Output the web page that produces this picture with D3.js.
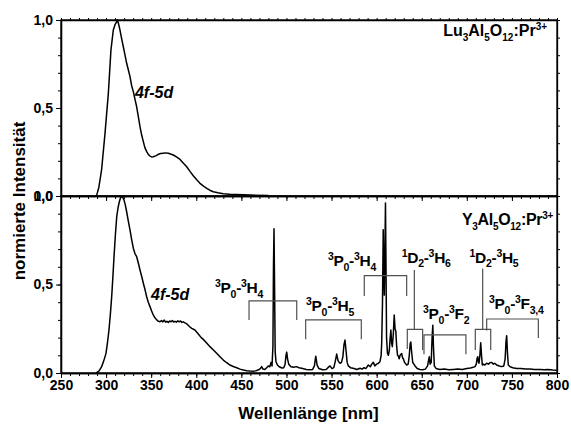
<!DOCTYPE html>
<html><head><meta charset="utf-8">
<script src="https://cdn.jsdelivr.net/npm/d3@7"></script>
<style>
body{margin:0;background:#fff}
svg{display:block;background:#fff}
text{font-family:Arial,"Liberation Sans",sans-serif;font-weight:bold;fill:#000}
.tick text{font-size:14px}
</style></head><body>
<svg id="chart" width="571" height="433"></svg>
<script>
// Excitation spectrum of Lu3Al5O12:Pr3+ : [wavelength nm, normalised intensity]
const luSpectrum = [
  [289,0],[289.6,0.005],[292,0.05],[295,0.148],[298.8,0.356],[302.5,0.583],[305.4,0.83],[308,0.943],
  [310,0.975],[311.8,0.99],[312.5,1.0],[313.5,0.985],[315.4,0.943],[317,0.9],[319.1,0.848],[321,0.8],
  [322.8,0.754],[324.5,0.72],[326.5,0.678],[328.4,0.625],[330.2,0.593],[332,0.55],[333.9,0.507],
  [335.8,0.45],[337.6,0.394],[339.5,0.345],[341.3,0.309],[343,0.275],[345,0.252],[347,0.235],
  [348.7,0.227],[350.5,0.222],[352.3,0.223],[355,0.228],[357.9,0.237],[360.5,0.241],[363.4,0.243],
  [366,0.245],[369,0.243],[371.5,0.239],[374.5,0.233],[378,0.222],[382,0.208],[385.5,0.188],
  [389.4,0.166],[393,0.14],[396.7,0.115],[400.5,0.092],[404.1,0.072],[408,0.056],[411.6,0.044],
  [415,0.033],[418.9,0.024],[424,0.018],[430,0.013],[437,0.01],[444.8,0.008],[460,0.005],[480,0.003]
];

// Spectrum of Y3Al5O12:Pr3+ : [wavelength nm, normalised intensity]
const yagSpectrum = [
  [289,0],[292,0.01],[295.1,0.036],[297.5,0.07],[299.9,0.111],[301.5,0.17],[303.2,0.243],[304.7,0.33],
  [306.2,0.431],[307.5,0.54],[308.8,0.657],[310.3,0.78],[311.8,0.883],[313.3,0.935],[314.7,0.968],
  [316,0.99],[317.3,0.997],[318.6,0.99],[319.9,0.977],[321.3,0.95],[322.8,0.911],[324.6,0.86],
  [326.5,0.808],[328.3,0.755],[330.2,0.705],[332,0.675],[333.9,0.657],[335.8,0.62],[337.6,0.582],
  [339.5,0.545],[341.3,0.507],[343.2,0.47],[345,0.431],[346.8,0.4],[348.7,0.375],[350.5,0.35],
  [352.3,0.328],[354.2,0.312],[356.1,0.3],[358,0.292],[359.8,0.29],[361.5,0.296],[363,0.289],
  [364.5,0.299],[366,0.287],[367.5,0.292],[369,0.286],[370.5,0.294],[372,0.289],[373.5,0.297],
  [375,0.288],[376.5,0.292],[378,0.287],[379.5,0.295],[381,0.289],[382.5,0.294],[384,0.286],
  [385.5,0.289],[387.5,0.283],[389.4,0.278],[391,0.27],[393,0.26],[395,0.252],[398.5,0.243],
  [402,0.222],[405.5,0.2],[407.8,0.19],[411.5,0.17],[415.2,0.149],[419,0.13],[422.6,0.111],
  [426.3,0.092],[430,0.073],[433.7,0.058],[437.4,0.045],[441,0.037],[444.8,0.03],[448.5,0.022],
  [452.2,0.017],[456,0.013],[459.6,0.011],[463,0.01],[466,0.012],[469,0.018],[471,0.025],
  [472.5,0.036],[474,0.022],[476,0.02],[478,0.03],[479.9,0.04],[481.5,0.035],[482.9,0.06],
  [484,0.04],[485,0.15],[485.6,0.6],[486.2,0.815],[486.8,0.5],[487.5,0.12],[488.4,0.064],
  [490,0.045],[492,0.035],[495,0.028],[497,0.03],[498.5,0.05],[499.5,0.1],[500.3,0.118],
  [501.2,0.08],[502.5,0.05],[505,0.035],[508,0.032],[511,0.036],[514,0.03],[518,0.025],
  [522,0.02],[526,0.018],[529,0.02],[531,0.04],[532.5,0.095],[534,0.045],[536,0.025],[540,0.018],
  [544,0.02],[546,0.03],[548.3,0.04],[550.5,0.025],[552.5,0.03],[554.3,0.07],[555.7,0.107],
  [557.2,0.07],[558.5,0.06],[559.4,0.055],[561,0.06],[562.5,0.09],[563.8,0.16],[564.9,0.186],
  [566,0.13],[567.3,0.06],[568.6,0.04],[571,0.03],[575,0.025],[578,0.02],[581.6,0.027],
  [584,0.022],[586,0.03],[588,0.025],[590.8,0.045],[593,0.035],[594.5,0.05],[596.3,0.06],
  [598,0.04],[600,0.05],[602,0.055],[603.7,0.064],[605,0.1],[605.6,0.17],[606.5,0.4],
  [607.3,0.81],[607.9,0.6],[608.5,0.44],[609.2,0.7],[609.8,0.96],[610.4,0.6],[611,0.2],
  [612,0.11],[613,0.1],[614.1,0.13],[615,0.2],[615.8,0.243],[616.6,0.17],[617.4,0.149],
  [618.5,0.22],[619.5,0.328],[620.4,0.25],[621.3,0.235],[622.2,0.15],[623.2,0.1],[624,0.096],
  [625,0.08],[626,0.1],[627.8,0.11],[628.8,0.085],[629.6,0.08],[631,0.06],[633.3,0.045],
  [635,0.05],[636.2,0.1],[637.2,0.165],[637.9,0.175],[638.8,0.12],[640,0.06],[642.6,0.04],
  [645,0.025],[648,0.02],[651,0.018],[654,0.022],[656.5,0.04],[657.5,0.07],[658.4,0.092],
  [659.3,0.05],[660.5,0.06],[661.5,0.2],[662.3,0.27],[663,0.15],[664,0.04],[666,0.025],
  [670,0.02],[675,0.022],[680,0.018],[685,0.02],[690,0.022],[695,0.02],[700,0.025],[704,0.028],
  [707,0.032],[709.1,0.036],[710.5,0.05],[711.5,0.085],[712.1,0.092],[713,0.06],[713.5,0.055],
  [714.5,0.1],[715.4,0.171],[716.3,0.1],[717.2,0.045],[718.5,0.05],[720,0.045],[722,0.055],
  [724,0.05],[725.5,0.058],[727.5,0.06],[729.5,0.05],[731,0.055],[733.1,0.045],[736,0.04],
  [738.6,0.036],[741,0.04],[742.5,0.08],[743.5,0.18],[744.2,0.211],[745,0.12],[746,0.045],
  [748,0.035],[751,0.03],[755.3,0.025],[760,0.025],[765,0.022],[770,0.023],[775,0.02],
  [781,0.02],[786,0.018],[790,0.02],[795,0.017],[799.6,0.016]
];

// Axis ticks
const xTickLabels = d3.range(250, 801, 50);
const xMinorTicks = d3.range(250, 801, 10);
const yTickLabels = [0, 0.5, 1];
const yMinorTicks = d3.range(0, 1.0001, 0.1);

// Transition labels: segments [text, "sup"|"sub"|""], anchor [nm, intensity]
const transitionNames = [
  [["3","sup"],["P",""],["0","sub"],["-",""],["3","sup"],["H",""],["4","sub"]],
  [["3","sup"],["P",""],["0","sub"],["-",""],["3","sup"],["H",""],["5","sub"]],
  [["3","sup"],["P",""],["0","sub"],["-",""],["3","sup"],["H",""],["4","sub"]],
  [["1","sup"],["D",""],["2","sub"],["-",""],["3","sup"],["H",""],["6","sub"]],
  [["3","sup"],["P",""],["0","sub"],["-",""],["3","sup"],["F",""],["2","sub"]],
  [["1","sup"],["D",""],["2","sub"],["-",""],["3","sup"],["H",""],["5","sub"]],
  [["3","sup"],["P",""],["0","sub"],["-",""],["3","sup"],["F",""],["3,4","sub"]]
];
const transitionAnchors = [[420.8,0.45],[521.7,0.35],[546,0.605],[627.8,0.623],[651.4,0.303],[703,0.623],[724.6,0.36]];

// Brackets marking the line groups: [nm from, nm to, bar level, left leg end, right leg end]
const brackets = [
  [458.5,511.4,0.407,0.30,0.30],
  [521.3,583,0.30,0.19,0.19],
  [586.3,633.3,0.55,0.435,0.435],
  [634,651,0.247,0.136,0.13],
  [652.5,699,0.215,0.106,0.106],
  [709.4,726.5,0.247,0.13,0.13],
  [722,779.3,0.305,0.24,0.198]
];
// Connectors from the 1D2 labels down to their brackets: [nm, top, bottom]
const connectors = [[641.8,0.582,0.247],[717.6,0.59,0.247]];

const svg = d3.select("#chart");
const x = d3.scaleLinear().domain([250, 800]).range([61, 557]);
const yTop = d3.scaleLinear().domain([0, 1]).range([196, 20]);
const yBot = d3.scaleLinear().domain([0, 1]).range([373, 196]);
const fmt = d => d.toFixed(1).replace(".", ",");

function styleAxis(g) {
  g.attr("font-size", null).attr("font-family", null);
  g.selectAll("path.domain").attr("stroke", "#000").attr("stroke-width", 1.3);
  g.selectAll(".tick line").attr("stroke", "#000").attr("stroke-width", 1);
}

// x axes (bottom of each panel) and top edge ticks
[196, 373].forEach(yy => {
  svg.append("g").attr("transform", `translate(0,${yy})`)
    .call(d3.axisBottom(x).tickValues(xMinorTicks).tickSize(3).tickSizeOuter(0).tickFormat(""))
    .call(styleAxis);
});
svg.append("g").attr("transform", "translate(0,373)")
  .call(d3.axisBottom(x).tickValues(xTickLabels).tickSize(5).tickPadding(3).tickSizeOuter(0).tickFormat(d3.format("d")))
  .call(styleAxis)
  .call(g => g.selectAll("text").attr("dy", "0.64em"));
svg.append("g").attr("transform", "translate(0,196)")
  .call(d3.axisBottom(x).tickValues(xTickLabels).tickSize(5).tickSizeOuter(0).tickFormat(""))
  .call(styleAxis);
svg.append("g").attr("transform", "translate(0,20)")
  .call(d3.axisTop(x).tickValues(xMinorTicks).tickSize(2).tickSizeOuter(0).tickFormat(""))
  .call(styleAxis);

// y axes (left with labels, right with ticks)
[yTop, yBot].forEach(ys => {
  svg.append("g").attr("transform", "translate(61,0)")
    .call(d3.axisLeft(ys).tickValues(yMinorTicks).tickSize(3).tickSizeOuter(0).tickFormat(""))
    .call(styleAxis);
  svg.append("g").attr("transform", "translate(61,0)")
    .call(d3.axisLeft(ys).tickValues(yTickLabels).tickSize(5).tickPadding(3).tickSizeOuter(0).tickFormat(fmt))
    .call(styleAxis);
  svg.append("g").attr("transform", "translate(557,0)")
    .call(d3.axisRight(ys).tickValues(yMinorTicks).tickSize(3).tickSizeOuter(0).tickFormat(""))
    .call(styleAxis);
});

// panel frames
[yTop, yBot].forEach(ys => {
  svg.append("rect")
    .attr("x", x(250)).attr("y", ys(1))
    .attr("width", x(800) - x(250)).attr("height", ys(0) - ys(1))
    .attr("fill", "none").attr("stroke", "#000").attr("stroke-width", 1.3);
});

// spectra
const line = ys => d3.line().x(d => x(d[0])).y(d => ys(d[1]));
svg.append("path").datum(luSpectrum).attr("d", line(yTop))
  .attr("fill", "none").attr("stroke", "#000").attr("stroke-width", 1.5).attr("stroke-linejoin", "round");
svg.append("path").datum(yagSpectrum).attr("d", line(yBot))
  .attr("fill", "none").attr("stroke", "#000").attr("stroke-width", 1.5).attr("stroke-linejoin", "round");

// brackets and connectors
const bg = svg.append("g").attr("stroke", "#505050").attr("stroke-width", 1.2).attr("fill", "none");
brackets.forEach(([a, b, h, l1, l2]) => {
  bg.append("path").attr("d",
    `M${x(a)},${yBot(l1)}V${yBot(h)}H${x(b)}V${yBot(l2)}`);
});
connectors.forEach(([a, t, b]) => {
  bg.append("line").attr("x1", x(a)).attr("x2", x(a)).attr("y1", yBot(t)).attr("y2", yBot(b));
});

// label writer with sub/superscripts
function richText(px, py, segs, size, small, anchor) {
  const t = svg.append("text").attr("x", px).attr("y", py)
    .attr("font-size", size).attr("text-anchor", anchor || "start");
  let cur = 0;
  segs.forEach(([s, k]) => {
    const target = k === "sup" ? -size * 0.4 : k === "sub" ? size * 0.3 : 0;
    t.append("tspan").attr("dy", target - cur)
      .attr("font-size", k ? small : size).text(s);
    cur = target;
  });
  return t;
}

transitionNames.forEach((segs, i) => {
  const [nm, v] = transitionAnchors[i];
  richText(x(nm), yBot(v), segs, 15.5, 10.5).attr("letter-spacing", -0.3);
});

// sample names
richText(x(789), yTop(0.907),
  [["Lu",""],["3","sub"],["Al",""],["5","sub"],["O",""],["12","sub"],[":Pr",""],["3+","sup"]],
  16, 10, "end");
richText(x(795.6), yBot(0.836),
  [["Y",""],["3","sub"],["Al",""],["5","sub"],["O",""],["12","sub"],[":Pr",""],["3+","sup"]],
  16, 10, "end").attr("letter-spacing", -0.3);

// band labels
svg.append("text").attr("x", x(332)).attr("y", yTop(0.557))
  .attr("font-size", 16).attr("font-style", "italic").text("4f-5d");
svg.append("text").attr("x", x(349.8)).attr("y", yBot(0.412))
  .attr("font-size", 16).attr("font-style", "italic").text("4f-5d");

// axis titles
svg.append("text").attr("x", 308.5).attr("y", 419).attr("text-anchor", "middle")
  .attr("font-size", 17).text("Wellenlänge [nm]");
svg.append("text").attr("transform", "translate(25,201) rotate(-90)")
  .attr("text-anchor", "middle").attr("font-size", 17)
  .text("normierte Intensität");
</script>
</body></html>
